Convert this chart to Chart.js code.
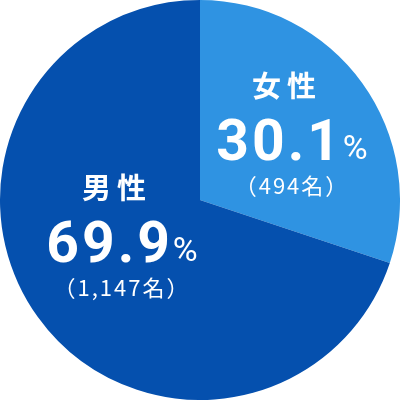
<!DOCTYPE html>
<html>
<head>
<meta charset="utf-8">
<script src="https://cdn.jsdelivr.net/npm/chart.js@4"></script>
<style>
  html, body { margin: 0; padding: 0; background: #fff; }
  #wrap { width: 400px; height: 400px; }
</style>
</head>
<body>
<div id="wrap"><canvas id="chart1" width="400" height="400"></canvas></div>
<script>
// Data
const labels = ["女性", "男性"];
const shares = [30.1, 69.9];
const counts = ["（494名）", "（1,147名）"];
const colors = ["#2f93e2", "#0550ae"];

// label placement for each slice: centre x, and y of each line
const labelPos = [
  { x: 292, title: 86, num: 160, count: 186 },
  { x: 122, title: 188, num: 262, count: 288 },
];

const sliceLabels = {
  id: "sliceLabels",
  afterDraw(chart) {
    const ctx = chart.ctx;
    ctx.save();
    ctx.fillStyle = "#fff";
    labels.forEach((lab, i) => {
      const p = labelPos[i];
      ctx.textAlign = "center";

      // title
      ctx.font = "bold 29px 'Noto Sans CJK JP'";
      ctx.letterSpacing = "6px";
      ctx.textBaseline = "middle";
      ctx.fillText(lab, p.x - 5, p.title);

      // percentage: big number + small %
      const num = shares[i].toFixed(1);
      ctx.textBaseline = "alphabetic";
      ctx.font = "bold 57px Roboto";
      ctx.letterSpacing = "3px";
      const w1 = ctx.measureText(num).width;
      ctx.font = "34px Roboto";
      ctx.letterSpacing = "0px";
      const w2 = ctx.measureText("%").width;
      const left = p.x - (w1 + w2) / 2;
      ctx.textAlign = "left";
      ctx.font = "bold 57px Roboto";
      ctx.letterSpacing = "3px";
      ctx.fillText(num, left, p.num);
      ctx.font = "34px Roboto";
      ctx.letterSpacing = "0px";
      ctx.fillText("%", left + w1, p.num - 1);

      // count
      ctx.textAlign = "center";
      ctx.textBaseline = "middle";
      ctx.font = "22px 'Noto Sans CJK JP'";
      ctx.letterSpacing = "2px";
      ctx.fillText(counts[i], p.x, p.count);
    });
    ctx.restore();
  },
};

new Chart(document.getElementById("chart1").getContext("2d"), {
  type: "pie",
  data: {
    labels: labels,
    datasets: [
      {
        data: shares,
        backgroundColor: colors,
        borderWidth: 0,
      },
    ],
  },
  options: {
    responsive: false,
    animation: false,
    layout: { padding: 0 },
    plugins: {
      legend: { display: false },
      tooltip: { enabled: false },
    },
  },
  plugins: [sliceLabels],
});
</script>
</body>
</html>
